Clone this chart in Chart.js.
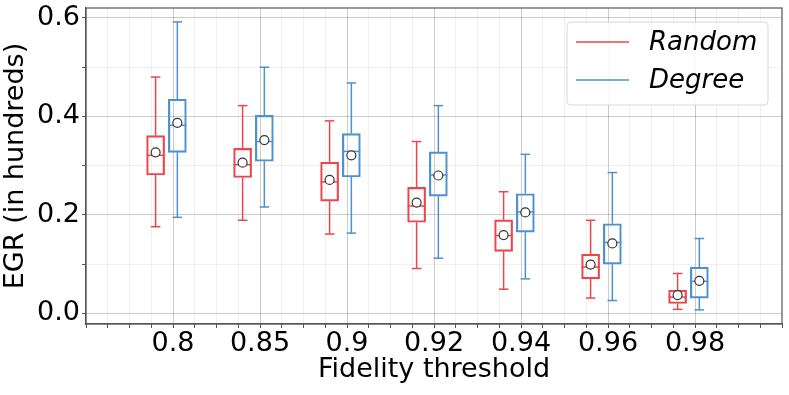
<!DOCTYPE html>
<html>
<head>
<meta charset="utf-8">
<script src="https://cdn.jsdelivr.net/npm/chart.js@4.4.1/dist/chart.umd.min.js"></script>
<style>
  html, body { margin: 0; padding: 0; background: #fff; }
</style>
</head>
<body>
<canvas id="egrChart" width="789" height="395"></canvas>
<script>
// ===== Data =====
const thresholds = ["0.8", "0.85", "0.9", "0.92", "0.94", "0.96", "0.98"];
const seriesNames = ["Random", "Degree"];

// Random selection
const randomMin    = [0.176, 0.189, 0.161, 0.091, 0.049, 0.031, 0.008];
const randomQ1     = [0.281, 0.276, 0.228, 0.185, 0.126, 0.070, 0.020];
const randomMedian = [0.321, 0.302, 0.267, 0.218, 0.158, 0.094, 0.033];
const randomQ3     = [0.361, 0.335, 0.307, 0.256, 0.190, 0.120, 0.047];
const randomMax    = [0.480, 0.422, 0.391, 0.349, 0.247, 0.189, 0.081];
const randomMean   = [0.327, 0.306, 0.271, 0.225, 0.159, 0.099, 0.037];

// Degree selection
const degreeMin    = [0.195, 0.216, 0.163, 0.112, 0.070, 0.026, 0.007];
const degreeQ1     = [0.327, 0.309, 0.277, 0.238, 0.165, 0.100, 0.031];
const degreeMedian = [0.382, 0.349, 0.329, 0.281, 0.206, 0.144, 0.065];
const degreeQ3     = [0.435, 0.402, 0.365, 0.328, 0.243, 0.182, 0.094];
const degreeMax    = [0.592, 0.500, 0.468, 0.422, 0.323, 0.286, 0.152];
const degreeMean   = [0.387, 0.352, 0.321, 0.280, 0.205, 0.142, 0.066];

const yTickLabels = [0.0, 0.2, 0.4, 0.6];

// ===== Style =====
const RED = "#e8484d";
const BLUE = "#4c92cf";
const FONT = "'DejaVu Sans', sans-serif";
const BOX_PX = 18;       // box width in px
const CAP_HALF = 0.055;  // whisker cap half width in x units

const boxSeries = [
  { name: seriesNames[0], color: RED,  offset: -0.2,  min: randomMin, q1: randomQ1, med: randomMedian, q3: randomQ3, max: randomMax, mean: randomMean },
  { name: seriesNames[1], color: BLUE, offset: 0.05, min: degreeMin, q1: degreeQ1, med: degreeMedian, q3: degreeQ3, max: degreeMax, mean: degreeMean }
];

// ===== Datasets =====
const datasets = [];
boxSeries.forEach(s => {
  datasets.push({
    type: "scatter",
    label: s.name + " mean",
    data: s.mean.map((v, i) => ({ x: i + 1 + s.offset, y: v })),
    pointRadius: 4.5,
    pointHoverRadius: 4.5,
    pointBackgroundColor: "#fff",
    pointBorderColor: "#333",
    pointBorderWidth: 1.2,
    showLine: false,
    order: 0
  });
});
boxSeries.forEach(s => {
  datasets.push({
    type: "bar",
    label: s.name,
    data: s.q1.map((v, i) => ({ x: i + 1 + s.offset, y: [v, s.q3[i]] })),
    backgroundColor: "rgba(255,255,255,0)",
    borderColor: s.color,
    borderWidth: 1.5,
    borderSkipped: false,
    barThickness: BOX_PX,
    grouped: false,
    order: 1
  });
});

// ===== Plugins =====
// whiskers, caps and medians drawn through the scales
const boxLines = {
  id: "boxLines",
  beforeDatasetsDraw(chart) {
    const { ctx, scales: { x, y } } = chart;
    const capHalf = x.getPixelForValue(CAP_HALF) - x.getPixelForValue(0);
    const boxHalf = BOX_PX / 2;
    const seg = (x1, y1, x2, y2) => { ctx.beginPath(); ctx.moveTo(x1, y1); ctx.lineTo(x2, y2); ctx.stroke(); };
    boxSeries.forEach(s => {
      ctx.save();
      ctx.strokeStyle = s.color;
      ctx.lineWidth = 1.5;
      thresholds.forEach((_, i) => {
        const cx = x.getPixelForValue(i + 1 + s.offset);
        const yMax = y.getPixelForValue(s.max[i]);
        const yMin = y.getPixelForValue(s.min[i]);
        seg(cx, yMax, cx, y.getPixelForValue(s.q3[i]));
        seg(cx, y.getPixelForValue(s.q1[i]), cx, yMin);
        seg(cx - capHalf, yMax, cx + capHalf, yMax);
        seg(cx - capHalf, yMin, cx + capHalf, yMin);
        const yMed = y.getPixelForValue(s.med[i]);
        seg(cx - boxHalf, yMed, cx + boxHalf, yMed);
      });
      ctx.restore();
    });
  }
};

// axis frame + legend box inside the plot
const frameAndLegend = {
  id: "frameAndLegend",
  afterDraw(chart) {
    const { ctx, chartArea: a } = chart;
    ctx.save();
    ctx.strokeStyle = "#555";
    ctx.lineWidth = 1.2;
    ctx.strokeRect(a.left, a.top, a.right - a.left, a.bottom - a.top);

    const w = 201, h = 83;
    const lx = a.right - 14 - w, ly = a.top + 14;
    ctx.beginPath();
    ctx.roundRect(lx, ly, w, h, 4);
    ctx.fillStyle = "rgba(255,255,255,0.85)";
    ctx.fill();
    ctx.strokeStyle = "#d8d8d8";
    ctx.lineWidth = 1;
    ctx.stroke();

    ctx.font = "italic 26px " + FONT;
    ctx.textBaseline = "middle";
    ctx.fillStyle = "#000";
    boxSeries.forEach((s, k) => {
      const yy = ly + 20 + k * 38;
      ctx.strokeStyle = s.color;
      ctx.lineWidth = 1.5;
      ctx.beginPath();
      ctx.moveTo(lx + 9, yy);
      ctx.lineTo(lx + 62, yy);
      ctx.stroke();
      ctx.fillText(s.name, lx + 82, yy + 1);
    });
    ctx.restore();
  }
};

// ===== Ticks =====
const xTickValues = [];
for (let k = 0; k <= 32; k++) xTickValues.push(k / 4);
const yTickValues = [];
for (let k = 0; k <= 12; k++) yTickValues.push(Math.round(k * 5) / 100);

const isMajorY = v => yTickLabels.some(t => Math.abs(t - v) < 1e-6);
const isMajorX = v => Number.isInteger(v) && v >= 1 && v <= thresholds.length;

// ===== Chart =====
new Chart(document.getElementById("egrChart"), {
  type: "bar",
  data: { datasets },
  options: {
    responsive: false,
    animation: false,
    layout: { padding: { top: 8, right: 7, left: 0, bottom: 0 } },
    plugins: { legend: { display: false }, tooltip: { enabled: false } },
    scales: {
      x: {
        type: "linear",
        min: 0,
        max: 8,
        offset: false,
        afterBuildTicks: s => { s.ticks = xTickValues.map(v => ({ value: v })); },
        afterFit: s => { s.height = 71; s.paddingLeft = 0; s.paddingRight = 0; },
        ticks: {
          autoSkip: false,
          maxRotation: 0,
          padding: 0,
          color: "#000",
          font: { family: FONT, size: 27 },
          callback: v => isMajorX(v) ? thresholds[v - 1] : ""
        },
        grid: {
          offset: false,
          tickLength: 4,
          color: c => (c.tick && isMajorX(c.tick.value)) ? "rgba(0,0,0,0.2)" : (c.tick && c.tick.value > 0 && c.tick.value < 8 ? "rgba(0,0,0,0.06)" : "rgba(0,0,0,0)"),
          tickColor: "#555"
        },
        border: { color: "#555", width: 1.2 },
        title: {
          display: true,
          text: "Fidelity threshold",
          color: "#000",
          font: { family: FONT, size: 27 },
          padding: { top: 0, bottom: 9 }
        }
      },
      y: {
        type: "linear",
        min: -0.0217,
        max: 0.6203,
        afterBuildTicks: s => { s.ticks = yTickValues.map(v => ({ value: v })); },
        afterFit: s => { s.width = 86; s.paddingTop = 0; s.paddingBottom = 0; },
        ticks: {
          padding: 2,
          color: "#000",
          font: { family: FONT, size: 27 },
          callback: v => isMajorY(v) ? v.toFixed(1) : ""
        },
        grid: {
          tickLength: 4,
          color: c => (c.tick && isMajorY(c.tick.value)) ? "rgba(0,0,0,0.2)" : "rgba(0,0,0,0.06)",
          tickColor: "#555"
        },
        border: { color: "#555", width: 1.2 },
        title: {
          display: true,
          text: "EGR (in hundreds)",
          color: "#000",
          font: { family: FONT, size: 27 },
          padding: { top: 0, bottom: 0 }
        }
      }
    }
  },
  plugins: [boxLines, frameAndLegend]
});
</script>
</body>
</html>
